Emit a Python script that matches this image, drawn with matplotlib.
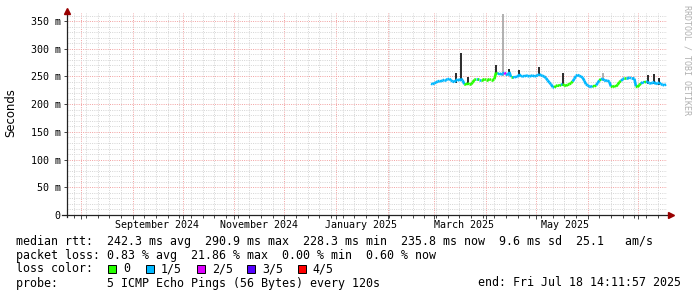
import matplotlib
matplotlib.use('Agg')
import matplotlib.pyplot as plt
import matplotlib.dates as mdates
from matplotlib.collections import LineCollection
from matplotlib.patches import Rectangle
import pandas as pd

# time window of the graph (last 360 days)
t_start = pd.Timestamp('2024-07-23 14:11:57')
t_end = pd.Timestamp('2025-07-18 14:11:57')

# daily median rtt (ms), from 2025-02-27 to 2025-07-18
median_ms = [237, 236,
             238, 239, 241, 242, 241, 243, 244, 244, 245, 246, 243, 241, 240, 243, 245, 242, 246, 243, 236, 235,
             238, 236, 236, 239, 244, 245, 245, 244, 244, 244, 245,
             244, 244, 245, 244, 244, 245, 257, 254, 256, 253, 255, 257, 254, 252, 258, 249, 249, 248, 250, 249,
             254, 250, 251, 250, 252, 251, 250, 251, 252, 250,
             251, 252, 254, 252, 251, 250, 247, 243, 239, 236, 231, 230, 233, 234, 233, 235, 236, 234, 233, 235,
             236, 238, 241, 246, 251, 253, 251, 250, 248, 242, 236,
             234, 232, 231, 233, 232, 234, 238, 243, 245, 246, 243, 242, 243, 240, 232, 231, 233, 232, 235, 240,
             242, 245, 247, 247, 247, 248, 247, 247, 246, 232,
             231, 235, 237, 240, 239, 241, 240, 238, 237, 239, 240, 236, 238, 239, 236, 235, 234, 236]
# loss class per day: 0 -> 0/5, 1 -> 1/5, 2 -> 2/5
loss_class = [1, 1,
              1, 1, 1, 1, 1, 1, 1, 1, 1, 1, 1, 1, 1, 1, 1, 1, 1, 1, 0, 0,
              0, 0, 0, 0, 0, 1, 0, 1, 0, 0, 0,
              0, 0, 0, 0, 0, 0, 0, 1, 1, 1, 1, 2, 1, 1, 1, 0, 1, 1, 1, 1,
              1, 1, 1, 1, 1, 1, 1, 1, 1, 1,
              1, 1, 1, 1, 1, 1, 1, 1, 1, 1, 1, 0, 0, 0, 0, 1, 0, 0, 0, 0,
              0, 0, 1, 1, 1, 1, 1, 1, 1, 1, 1,
              1, 1, 1, 0, 0, 1, 1, 0, 1, 1, 1, 1, 1, 1, 0, 0, 0, 0, 0, 0,
              1, 1, 0, 1, 1, 1, 1, 1, 1, 0,
              0, 0, 1, 1, 0, 1, 1, 1, 1, 1, 1, 1, 1, 1, 1, 1, 1, 1]
days = pd.date_range('2025-02-27', periods=len(median_ms), freq='D')

# smoke spikes (max ping rtt, ms)
spike_dates = ['2025-03-14', '2025-03-17', '2025-03-21', '2025-04-07', '2025-04-11', '2025-04-15',
               '2025-04-21', '2025-05-03', '2025-05-17', '2025-06-10', '2025-07-07', '2025-07-11', '2025-07-14']
spike_top = [256, 292, 249, 271, 362, 264, 262, 267, 256, 256, 253, 254, 248]
spike_light = [False, False, False, False, True, False, False, False, False, True, False, False, False]

loss_labels = ['0', '1/5', '2/5', '3/5', '4/5']
loss_colors = ['#26ff00', '#00b8ff', '#dd00ff', '#5500ff', '#ff0000']

month_labels = ['September 2024', 'November 2024', 'January 2025', 'March 2025', 'May 2025']
month_label_pos = ['2024-09-15 18:00', '2024-11-15 21:00', '2025-01-16 00:00',
                   '2025-03-18 12:00', '2025-05-18 14:00']

y_ticks = [0, 50, 100, 150, 200, 250, 300, 350]
y_ticklabels = ['0', '50 m', '100 m', '150 m', '200 m', '250 m', '300 m', '350 m']

stats_lines = [
    'median rtt:  242.3 ms avg  290.9 ms max  228.3 ms min  235.8 ms now  9.6 ms sd  25.1   am/s',
    'packet loss: 0.83 % avg  21.86 % max  0.00 % min  0.60 % now',
]
probe_text = 'probe:       5 ICMP Echo Pings (56 Bytes) every 120s'
end_text = 'end: Fri Jul 18 14:11:57 2025'

mono = 'DejaVu Sans Mono'
W, H = 697, 297


def fx(px):
    return px / W


def fy(py):
    return 1 - py / H


fig = plt.figure(figsize=(W / 100, H / 100), dpi=100)
ax = fig.add_axes([fx(67), fy(215), 600 / W, 202 / H])
ax.set_xlim(t_start, t_end)
ax.set_ylim(0, 364.6)

# grid
grid_minor = dict(color='#d4d4d4', lw=0.7, ls=(0, (1, 1.3)))
grid_major = dict(color='#f2a0a0', lw=0.7, ls=(0, (1, 1.3)))
ax.set_yticks(y_ticks)
ax.set_yticklabels(y_ticklabels, family=mono, fontsize=7.2)
ax.set_yticks(range(0, 361, 10), minor=True)
ax.xaxis.set_major_locator(mdates.MonthLocator())
ax.xaxis.set_minor_locator(mdates.WeekdayLocator(byweekday=mdates.SU))
ax.xaxis.set_major_formatter(plt.NullFormatter())
ax.grid(True, which='minor', **grid_minor)
ax.grid(True, which='major', **grid_major)
ax.tick_params(which='both', direction='out', color='#444444', width=0.7, pad=2)
ax.tick_params(axis='y', which='major', length=2.5)
ax.tick_params(axis='y', which='minor', length=0)
ax.tick_params(axis='x', which='major', length=3)
ax.tick_params(axis='x', which='minor', length=2)
ax.set_axisbelow(True)
for s in ax.spines.values():
    s.set_visible(False)

for lab, pos in zip(month_labels, month_label_pos):
    ax.text(pd.Timestamp(pos), -0.05, lab, transform=ax.get_xaxis_transform(),
            ha='center', va='center', family=mono, fontsize=7.2)

# axis lines with arrows
ax.plot([-0.008, 1.004], [0, 0], color='#222222', lw=0.9, transform=ax.transAxes, clip_on=False)
ax.plot([0, 0], [-0.012, 1.01], color='#222222', lw=0.9, transform=ax.transAxes, clip_on=False)
ax.plot([1.006], [0], marker='>', color='#990000', ms=4, transform=ax.transAxes, clip_on=False)
ax.plot([0], [1.012], marker='^', color='#990000', ms=4, transform=ax.transAxes, clip_on=False)

fig.text(fx(11), fy(113), 'Seconds', fontsize=8.4, family='DejaVu Sans', rotation=90,
         ha='center', va='center')

# smoke
med = pd.Series(median_ms, index=days)
for d, top, light in zip(spike_dates, spike_top, spike_light):
    d = pd.Timestamp(d)
    ax.vlines(d, med[d] - 4, top, color='#aaaaaa' if light else '#1a1a1a', lw=1.3, zorder=3)

# median line coloured by loss
xs = mdates.date2num(days)
segs = [[(xs[i], median_ms[i]), (xs[i + 1], median_ms[i + 1])] for i in range(len(xs) - 1)]
cols = [loss_colors[loss_class[i]] for i in range(len(xs) - 1)]
ax.add_collection(LineCollection(segs, colors=cols, linewidths=1.9, zorder=4, capstyle='butt'))

# bottom text
fig.text(fx(16), fy(241), stats_lines[0], family=mono, fontsize=8.4, va='center')
fig.text(fx(16), fy(255), stats_lines[1], family=mono, fontsize=8.4, va='center')
fig.text(fx(16), fy(269), 'loss color:', family=mono, fontsize=8.4, va='center')
box_x = [108.3, 145.7, 196.7, 247.3, 297.7]
for bx, lab, c in zip(box_x, loss_labels, loss_colors):
    fig.add_artist(Rectangle((fx(bx), fy(273)), 8 / W, 8 / H, transform=fig.transFigure,
                             facecolor=c, edgecolor='black', lw=0.7))
    fig.text(fx(bx + 15), fy(269), lab, family=mono, fontsize=8.4, va='center')
fig.text(fx(16), fy(283), probe_text, family=mono, fontsize=8.4, va='center')
fig.text(fx(681), fy(283), end_text, family=mono, fontsize=8.4, va='center', ha='right')

fig.text(fx(687), fy(5), 'RRDTOOL / TOBI OETIKER', family=mono, fontsize=6, color='#b0b0b0',
         rotation=270, ha='center', va='top')

fig.savefig('out.png', dpi=100)
